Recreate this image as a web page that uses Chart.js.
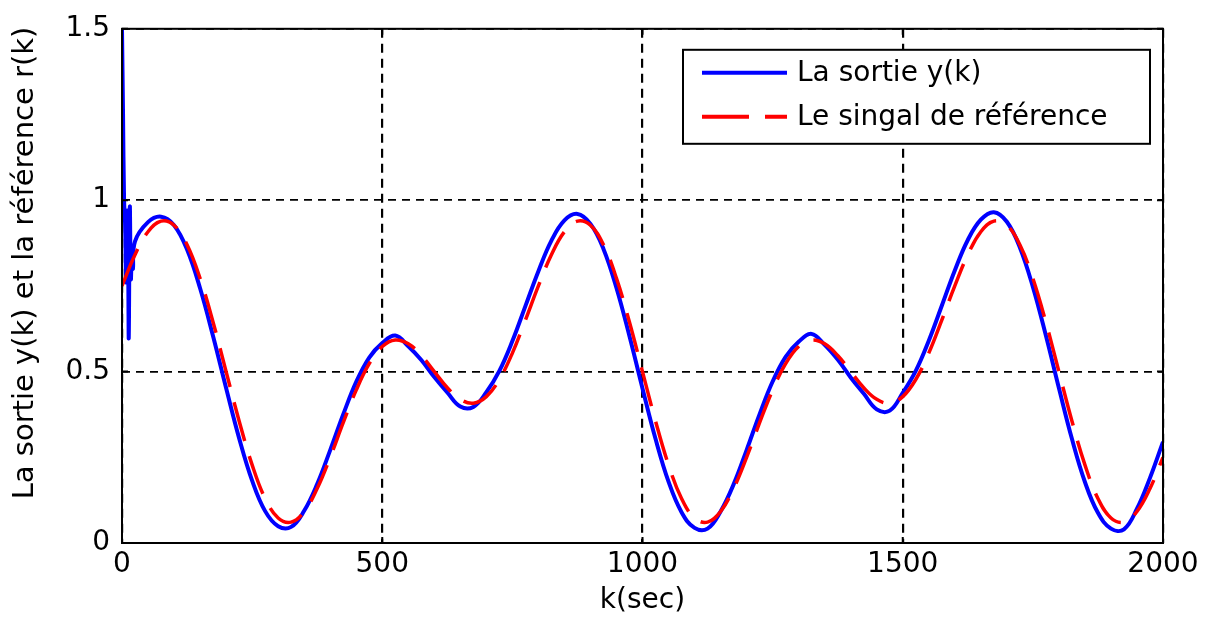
<!DOCTYPE html>
<html>
<head>
<meta charset="utf-8">
<script src="https://cdn.jsdelivr.net/npm/chart.js@4.4.1/dist/chart.umd.min.js"></script>
<style>
  html, body { margin: 0; padding: 0; background: #fff; }
  #wrap { width: 1213px; height: 623px; }
</style>
</head>
<body>
<div id="wrap"><canvas id="plot" width="1213" height="623"></canvas></div>
<script>
const seriesLabels = ["La sortie y(k)", "Le singal de référence"];
const xTitle = "k(sec)";
const yTitle = "La sortie y(k) et la référence r(k)";
const xTicks = [0, 500, 1000, 1500, 2000];
const yTicks = [0, 0.5, 1, 1.5];

// sample instants for the smooth part of the curves (every 25 s)
const kSamples = [];
for (let k = 0; k <= 2000; k += 25) kSamples.push(k);

// reference r(k), k = 0..2000
const refValues = [
  0.750, 0.841, 0.908, 0.939, 0.927, 0.870, 0.772, 0.644, 0.500, 0.356, 0.228, 0.130, 0.073, 0.061, 0.092, 0.159,
  0.250, 0.351, 0.446, 0.523, 0.573, 0.592, 0.581, 0.547, 0.500, 0.453, 0.419, 0.408, 0.427, 0.477, 0.554, 0.650,
  0.750, 0.841, 0.908, 0.939, 0.927, 0.870, 0.772, 0.644, 0.500, 0.356, 0.228, 0.130, 0.073, 0.061, 0.092, 0.159,
  0.250, 0.351, 0.446, 0.523, 0.573, 0.592, 0.581, 0.547, 0.500, 0.453, 0.419, 0.408, 0.427, 0.477, 0.554, 0.650,
  0.750, 0.841, 0.908, 0.939, 0.927, 0.870, 0.772, 0.644, 0.500, 0.356, 0.228, 0.130, 0.073, 0.061, 0.092, 0.159,
  0.250
];

// output y(k): start-up transient first ...
const startK = [0, 2, 4, 6, 8, 10, 12, 13, 15, 17, 19, 21];
const startY = [1.5, 1.25, 1.0, 0.93, 0.76, 0.97, 0.78, 0.60, 0.98, 0.77, 0.84, 0.80];
// ... then the tracking part, k = 25..2000
const outValues = [
  0.880, 0.936, 0.952, 0.927, 0.856, 0.743, 0.603, 0.452, 0.306, 0.182, 0.093, 0.049, 0.047, 0.094, 0.172,
  0.271, 0.375, 0.470, 0.541, 0.583, 0.605, 0.574, 0.534, 0.484, 0.439, 0.398, 0.397, 0.440, 0.502, 0.589, 0.691,
  0.793, 0.882, 0.941, 0.960, 0.931, 0.858, 0.744, 0.603, 0.451, 0.304, 0.179, 0.090, 0.044, 0.042, 0.092, 0.171,
  0.271, 0.376, 0.471, 0.543, 0.587, 0.610, 0.578, 0.535, 0.483, 0.436, 0.390, 0.386, 0.438, 0.502, 0.590, 0.692,
  0.795, 0.884, 0.943, 0.965, 0.937, 0.862, 0.747, 0.605, 0.452, 0.304, 0.178, 0.088, 0.042, 0.040, 0.100, 0.190,
  0.295
];

const BLUE = "#0000ff";
const RED = "#ff0000";
const FONT = "DejaVu Sans";

const refPoints = kSamples.map((k, i) => ({ x: k, y: refValues[i] }));
const outPoints = startK.map((k, i) => ({ x: k, y: startY[i] }))
  .concat(kSamples.slice(1).map((k, i) => ({ x: k, y: outValues[i] })));

Chart.defaults.font.family = FONT;
Chart.defaults.color = "#000";

// box round the axes with small inward ticks, like matlab
const framePlugin = {
  id: "frame",
  afterDatasetsDraw(chart) {
    const { ctx, chartArea: a, scales } = chart;
    ctx.save();
    ctx.strokeStyle = "#000";
    ctx.lineWidth = 2;
    ctx.strokeRect(a.left, a.top, a.right - a.left, a.bottom - a.top);
    ctx.beginPath();
    xTicks.forEach(v => {
      const px = scales.x.getPixelForValue(v);
      ctx.moveTo(px, a.bottom); ctx.lineTo(px, a.bottom - 6);
      ctx.moveTo(px, a.top); ctx.lineTo(px, a.top + 6);
    });
    yTicks.forEach(v => {
      const py = scales.y.getPixelForValue(v);
      ctx.moveTo(a.left, py); ctx.lineTo(a.left + 6, py);
      ctx.moveTo(a.right, py); ctx.lineTo(a.right - 6, py);
    });
    ctx.stroke();
    ctx.restore();
  }
};

// legend box in the upper right corner + rotated y title
const legendPlugin = {
  id: "boxLegend",
  afterDraw(chart) {
    const { ctx, chartArea: a } = chart;
    const w = 467, h = 94;
    const x0 = a.right - 13 - w, y0 = a.top + 21;
    ctx.save();
    ctx.fillStyle = "#fff";
    ctx.fillRect(x0, y0, w, h);
    ctx.strokeStyle = "#000";
    ctx.lineWidth = 2;
    ctx.strokeRect(x0, y0, w, h);

    const rows = [
      { color: BLUE, dash: [] },
      { color: RED, dash: [47, 16] }
    ];
    rows.forEach((r, i) => {
      const cy = y0 + 23 + i * 44;
      ctx.strokeStyle = r.color;
      ctx.lineWidth = 4;
      ctx.setLineDash(r.dash);
      ctx.beginPath();
      ctx.moveTo(x0 + 19, cy);
      ctx.lineTo(x0 + 104, cy);
      ctx.stroke();
      ctx.setLineDash([]);
      ctx.fillStyle = "#000";
      ctx.font = `28px "${FONT}"`;
      ctx.textBaseline = "middle";
      ctx.textAlign = "left";
      ctx.fillText(seriesLabels[i], x0 + 114, cy + 1);
    });

    ctx.translate(25, 263);
    ctx.rotate(-Math.PI / 2);
    ctx.font = `29px "${FONT}"`;
    ctx.textAlign = "center";
    ctx.textBaseline = "middle";
    ctx.fillStyle = "#000";
    ctx.fillText(yTitle, 0, 0);
    ctx.restore();
  }
};

new Chart(document.getElementById("plot"), {
  type: "line",
  data: {
    datasets: [
      {
        label: seriesLabels[0],
        data: outPoints,
        borderColor: BLUE,
        borderWidth: 4,
        pointRadius: 0,
        tension: 0.4,
        order: 2
      },
      {
        label: seriesLabels[1],
        data: refPoints,
        borderColor: RED,
        borderWidth: 3.5,
        borderDash: [40, 16],
        pointRadius: 0,
        tension: 0.4,
        order: 1
      }
    ]
  },
  options: {
    responsive: false,
    animation: false,
    layout: { padding: { left: 0, top: 21, right: 50, bottom: 0 } },
    plugins: {
      legend: { display: false },
      tooltip: { enabled: false }
    },
    scales: {
      x: {
        type: "linear",
        min: 0,
        max: 2000,
        afterBuildTicks: s => { s.ticks = xTicks.map(v => ({ value: v })); },
        afterFit: s => { s.height = 80; },
        ticks: {
          font: { size: 28 },
          padding: 5,
          maxRotation: 0,
          callback: v => String(v)
        },
        grid: { color: "#000", lineWidth: 2.2, drawTicks: false },
        border: { display: false, dash: [9, 6] },
        title: {
          display: true,
          text: xTitle,
          font: { size: 28 },
          padding: { top: 0, bottom: 5 }
        }
      },
      y: {
        type: "linear",
        min: 0,
        max: 1.5,
        afterBuildTicks: s => { s.ticks = yTicks.map(v => ({ value: v })); },
        afterFit: s => { s.width = 122; },
        ticks: {
          font: { size: 28 },
          padding: 12,
          callback: v => String(v)
        },
        grid: { color: "#000", lineWidth: 1.8, drawTicks: false },
        border: { display: false, dash: [8, 6] }
      }
    }
  },
  plugins: [framePlugin, legendPlugin]
});
</script>
</body>
</html>
